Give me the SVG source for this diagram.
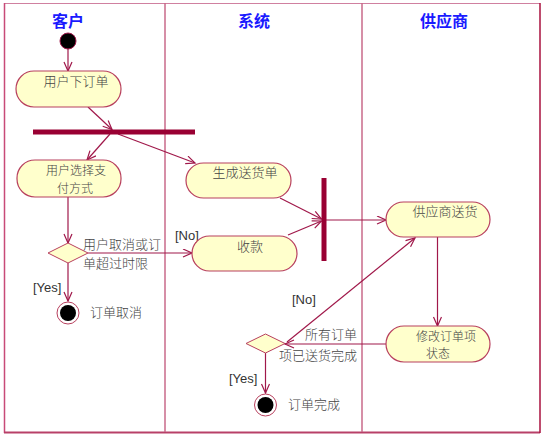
<svg xmlns="http://www.w3.org/2000/svg" width="545" height="437" viewBox="0 0 545 437">
<defs>
<style>
.lane{fill:none;stroke:#c86a8a;stroke-width:1.5}
.title{font-family:"Noto Sans CJK SC","Liberation Serif",serif;font-size:16px;font-weight:bold;fill:#1a1aff;text-anchor:middle}
.act{fill:#ffffcc;stroke:#b8405e;stroke-width:1.2}
.t{font-family:"Noto Sans CJK SC","Liberation Sans",sans-serif;font-size:13px;fill:#444;font-weight:300}
.s{font-size:12px}
.g{font-family:"Liberation Sans",sans-serif;font-size:13px;fill:#333}
.c{text-anchor:middle}
.edge{fill:none;stroke:#a0184a;stroke-width:1.2}
.bar{fill:#990033}
.dia{fill:#ffffcc;stroke:#b8405e;stroke-width:1}
</style>
<marker id="arr" markerUnits="userSpaceOnUse" markerWidth="12" markerHeight="10" refX="10" refY="4.5" orient="auto">
<path d="M1,0.5 L10,4.5 L1,8.5" fill="none" stroke="#a0184a" stroke-width="1.2"/>
</marker>
</defs>
<rect width="545" height="437" fill="#fff"/>
<g id="frame">
<line x1="4" y1="3.5" x2="540" y2="3.5" stroke="#d080a0" stroke-width="1.2"/>
<line x1="4.5" y1="3" x2="4.5" y2="433" stroke="#c84a78" stroke-width="1.5"/>
<line x1="4" y1="432.5" x2="540" y2="432.5" stroke="#b84068" stroke-width="2"/>
<line x1="540" y1="3" x2="540" y2="433" stroke="#a8103e" stroke-width="1.5"/>
<line class="lane" x1="165" y1="3" x2="165" y2="432"/>
<line class="lane" x1="362" y1="3" x2="362" y2="432"/>
</g>
<g id="titles">
<text class="title" x="68" y="27">客户</text>
<text class="title" x="254" y="27">系统</text>
<text class="title" x="444" y="27">供应商</text>
</g>
<g id="connectors">
<line class="edge" x1="68" y1="49" x2="68" y2="71" marker-end="url(#arr)"/>
<line class="edge" x1="88" y1="107" x2="112" y2="129.5" marker-end="url(#arr)"/>
<line class="edge" x1="110" y1="134" x2="87" y2="160" marker-end="url(#arr)"/>
<line class="edge" x1="118" y1="134" x2="195" y2="163" marker-end="url(#arr)"/>
<line class="edge" x1="68" y1="197" x2="68" y2="243" marker-end="url(#arr)"/>
<line class="edge" x1="88" y1="253" x2="192" y2="253" marker-end="url(#arr)"/>
<line class="edge" x1="68" y1="263" x2="68" y2="301" marker-end="url(#arr)"/>
<line class="edge" x1="280" y1="198" x2="321.5" y2="219" marker-end="url(#arr)"/>
<line class="edge" x1="288" y1="235" x2="321.5" y2="221" marker-end="url(#arr)"/>
<line class="edge" x1="326" y1="220" x2="386" y2="220" marker-end="url(#arr)"/>
<line class="edge" x1="437.5" y1="237" x2="437.5" y2="326" marker-end="url(#arr)"/>
<line class="edge" x1="386" y1="344" x2="285" y2="344" marker-end="url(#arr)"/>
<line class="edge" x1="287" y1="342" x2="415" y2="238" marker-end="url(#arr)"/>
<line class="edge" x1="265.5" y1="353" x2="265.5" y2="393" marker-end="url(#arr)"/>
</g>
<g id="start">
<circle cx="68" cy="41" r="8" fill="#000" stroke="#a0184a" stroke-width="1"/>
</g>
<g id="n_order">
<rect class="act" x="16" y="71" width="105" height="36" rx="18"/>
<text class="t c" x="76" y="86">用户下订单</text>
</g>
<g id="fork">
<rect class="bar" x="33" y="129.5" width="162" height="5"/>
</g>
<g id="n_pay">
<rect class="act" x="17" y="160" width="104" height="37" rx="18"/>
<text class="t s c" x="76" y="175">用户选择支</text>
<text class="t s c" x="75" y="192.8">付方式</text>
</g>
<g id="d_cancel">
<polygon class="dia" points="48,253 68,243 88,253 68,263"/>
<text class="t" x="83" y="249">用户取消或订</text>
<text class="t" x="83" y="268">单超过时限</text>
<text class="g" x="175" y="240">[No]</text>
<text class="g" x="33" y="292">[Yes]</text>
</g>
<g id="end_cancel">
<circle cx="68" cy="313" r="11" fill="#fff" stroke="#b8405e" stroke-width="1"/>
<circle cx="68" cy="313" r="8" fill="#000"/>
<text class="t" x="90" y="317">订单取消</text>
</g>
<g id="n_ship">
<rect class="act" x="186" y="163" width="105" height="35" rx="17.5"/>
<text class="t c" x="245" y="177">生成送货单</text>
</g>
<g id="n_collect">
<rect class="act" x="192" y="236" width="105" height="35" rx="17.5"/>
<text class="t c" x="250" y="251">收款</text>
</g>
<g id="join">
<rect class="bar" x="321.5" y="178" width="5" height="83"/>
</g>
<g id="n_supply">
<rect class="act" x="386" y="202" width="104" height="35" rx="17.5"/>
<text class="t c" x="445" y="216">供应商送货</text>
</g>
<g id="n_update">
<rect class="act" x="386" y="326" width="104" height="36" rx="18"/>
<text class="t s c" x="446" y="340.5">修改订单项</text>
<text class="t s c" x="438" y="358.3">状态</text>
</g>
<g id="d_done">
<polygon class="dia" points="246,343.5 265.5,334 285,343.5 265.5,353"/>
<text class="t" x="305" y="339">所有订单</text>
<text class="t" x="279" y="360">项已送货完成</text>
<text class="g" x="292" y="304">[No]</text>
<text class="g" x="229" y="383">[Yes]</text>
</g>
<g id="end_done">
<circle cx="265.5" cy="405" r="11" fill="#fff" stroke="#b8405e" stroke-width="1"/>
<circle cx="265.5" cy="405" r="8" fill="#000"/>
<text class="t" x="288" y="409">订单完成</text>
</g>
</svg>
